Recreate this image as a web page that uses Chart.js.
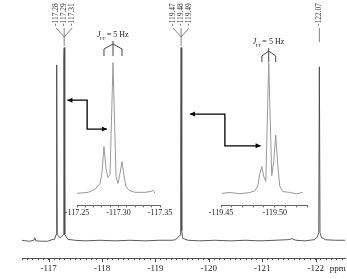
<!DOCTYPE html>
<html>
<head>
<meta charset="utf-8">
<script src="https://cdn.jsdelivr.net/npm/chart.js@4/dist/chart.umd.min.js"></script>
<style>
html, body { margin: 0; padding: 0; background: #fff; }
#wrap { position: relative; width: 347px; height: 279px; overflow: hidden; }
canvas { position: absolute; }
</style>
</head>
<body>
<div id="wrap">
  <canvas id="mainChart" width="347" height="279" style="left:0;top:0"></canvas>
  <canvas id="inset1" width="115" height="200" style="left:61px;top:25px"></canvas>
  <canvas id="inset2" width="118" height="200" style="left:205px;top:25px"></canvas>
</div>
<script>
// main 19F spectrum (ppm, relative intensity)
const mainPpm = [-116.50, -116.57, -116.64, -116.72, -116.74, -116.76, -116.87, -116.98, -117.06, -117.11,
  -117.14, -117.15, -117.16, -117.20, -117.23, -117.275, -117.283, -117.29, -117.297, -117.305, -117.36,
  -117.49, -117.68, -117.96, -118.24, -118.52, -118.80, -119.08, -119.31, -119.38, -119.42, -119.462,
  -119.472, -119.48, -119.488, -119.496, -119.51, -119.61, -119.83, -120.11, -120.40, -120.68, -120.96,
  -121.24, -121.48, -121.56, -121.63, -121.80, -121.97, -122.03, -122.058, -122.07, -122.082, -122.11,
  -122.18, -122.37, -122.55];
const mainInt = [0, -0.3, -0.5, 0, 1.3, -0.3, -0.5, -0.5, 0.3, 0.5,
  3, 91, 3, 1.5, 1.5, 3, 94, 100, 84, 3, 0.5,
  0, -0.3, 0, -0.3, 0, -0.3, 0, 0, 0.3, 1.5, 2.6,
  47, 100, 94, 5, 1, 0, -0.3, 0, -0.3, 0, -0.3,
  0, 0.3, 0.8, 0, -0.3, 0.3, 1.5, 4, 90, 4, 1.5,
  0.3, 0, 0];
const mainTickLabels = [-117, -118, -119, -120, -121, -122];

// expansion around -117.29
const inset1Ppm = [-117.2500, -117.2633, -117.2717, -117.2777, -117.2801, -117.2825, -117.2849, -117.2873,
  -117.2898, -117.2934, -117.2970, -117.2994, -117.3018, -117.3042, -117.3066, -117.3090, -117.3127,
  -117.3199, -117.3319, -117.3392, -117.3416, -117.3440];
const inset1Int = [0, 0.8, 3.1, 7.6, 16.0, 35.9, 19.1, 12.2, 14.5, 100, 13.0, 7.6, 15.3, 24.4, 13.7, 5.3,
  2.3, 0.8, 0.8, 1.5, 2.3, 0];
const inset1TickLabels = [-117.25, -117.30, -117.35];

// expansion around -119.48
const inset2Ppm = [-119.4509, -119.4583, -119.4676, -119.4769, -119.4815, -119.4843, -119.4861, -119.4880,
  -119.4898, -119.4917, -119.4944, -119.4972, -119.4991, -119.5009, -119.5028, -119.5046, -119.5074,
  -119.5139, -119.5204, -119.5259];
const inset2Int = [0, 0.7, -0.3, 0.7, 2, 5.7, 15, 20.6, 12.8, 9.2, 100, 13.5, 25, 44.7, 22, 5.7, 1.4, 0.7, -0.3, 0.7];
const inset2TickLabels = [-119.45, -119.50];

const peakGroups = [
  { at: -117.29, labels: ['-117.28', '-117.29', '-117.31'] },
  { at: -119.48, labels: ['-119.47', '-119.48', '-119.49'] },
  { at: -122.07, labels: ['-122.07'] }
];
const arrows = [
  [[-117.35, 72.7], [-117.72, 72.7], [-117.72, 57.7], [-118.09, 57.7]],
  [[-119.645, 65.5], [-120.30, 65.5], [-120.30, 49.0], [-120.97, 49.0]]
];

const SERIF = '"Liberation Serif", "DejaVu Serif", serif';

function stepTicks(min, max, step) {
  const out = [];
  const n = Math.round((max - min) / step);
  for (let i = 0; i <= n; i++) out.push({ value: +(min + i * step).toFixed(4) });
  return out;
}
function labelFor(list, digits) {
  return v => {
    const hit = list.find(l => Math.abs(l - v) < 1e-6);
    return hit === undefined ? '' : hit.toFixed(digits);
  };
}
function head(ctx, tip, from) {
  const a = Math.atan2(tip[1] - from[1], tip[0] - from[0]);
  ctx.beginPath();
  ctx.moveTo(tip[0], tip[1]);
  ctx.lineTo(tip[0] - 5 * Math.cos(a) + 2.5 * Math.sin(a), tip[1] - 5 * Math.sin(a) - 2.5 * Math.cos(a));
  ctx.lineTo(tip[0] - 5 * Math.cos(a) - 2.5 * Math.sin(a), tip[1] - 5 * Math.sin(a) + 2.5 * Math.cos(a));
  ctx.closePath();
  ctx.fill();
}

const annot = {
  id: 'annot',
  afterDraw(chart) {
    const { ctx, scales: { x, y } } = chart;
    const ay = chart.chartArea.bottom;
    ctx.save();
    ctx.strokeStyle = '#444';
    ctx.lineWidth = 1;
    mainTickLabels.forEach(v => {
      const px = Math.round(x.getPixelForValue(v)) + 0.5;
      ctx.beginPath(); ctx.moveTo(px, ay); ctx.lineTo(px, ay + 4); ctx.stroke();
    });
    ctx.fillStyle = '#222';
    ctx.font = '9px ' + SERIF;
    ctx.textBaseline = 'middle';
    ctx.textAlign = 'left';
    ctx.fillText('ppm', x.getPixelForValue(-122) + 14, ay + 10.5);

    // peak labels
    ctx.font = '7.5px ' + SERIF;
    ctx.fillStyle = '#333';
    ctx.strokeStyle = '#666';
    ctx.lineWidth = 0.8;
    peakGroups.forEach(g => {
      const cx = x.getPixelForValue(g.at);
      const n = g.labels.length;
      const join = n > 1 ? 37 : 28;
      g.labels.forEach((t, i) => {
        const lx = cx + (i - (n - 1) / 2) * 8;
        ctx.save();
        ctx.translate(lx, 26);
        ctx.rotate(-Math.PI / 2);
        ctx.fillText(t, 0, 0);
        ctx.restore();
        ctx.beginPath(); ctx.moveTo(lx, 28); ctx.lineTo(cx, join); ctx.stroke();
      });
      ctx.beginPath(); ctx.moveTo(cx, join); ctx.lineTo(cx, n > 1 ? 46 : 42); ctx.stroke();
    });

    // arrows
    ctx.strokeStyle = '#000';
    ctx.fillStyle = '#000';
    ctx.lineWidth = 1.3;
    arrows.forEach(a => {
      const pts = a.map(p => [x.getPixelForValue(p[0]), y.getPixelForValue(p[1])]);
      ctx.beginPath();
      pts.forEach((p, i) => i ? ctx.lineTo(p[0], p[1]) : ctx.moveTo(p[0], p[1]));
      ctx.stroke();
      head(ctx, pts[0], pts[1]);
      head(ctx, pts[pts.length - 1], pts[pts.length - 2]);
    });
    ctx.restore();
  }
};

const jb = {
  id: 'jb',
  afterDraw(chart, args, o) {
    const { ctx, scales: { x } } = chart;
    const xl = x.getPixelForValue(o.peaks[0]);
    const xm = x.getPixelForValue(o.peaks[1]);
    const xr = x.getPixelForValue(o.peaks[2]);
    ctx.save();
    ctx.strokeStyle = '#444';
    ctx.lineWidth = 1;
    ctx.beginPath();
    ctx.moveTo(xl, o.legBot); ctx.lineTo(xl, o.legTop); ctx.lineTo(xm, o.apex);
    ctx.lineTo(xr, o.legTop); ctx.lineTo(xr, o.legBot);
    ctx.moveTo(xm, o.apex - 3); ctx.lineTo(xm, o.legBot);
    ctx.stroke();
    ctx.fillStyle = '#222';
    ctx.textBaseline = 'alphabetic';
    ctx.textAlign = 'left';
    ctx.font = 'italic 8px ' + SERIF; const wJ = ctx.measureText('J').width;
    ctx.font = '5px ' + SERIF; const wF = ctx.measureText('FF').width;
    ctx.font = '8px ' + SERIF; const wR = ctx.measureText('= 5 Hz').width;
    let sx = xm - (wJ + wF + wR + 1) / 2;
    ctx.font = 'italic 8px ' + SERIF; ctx.fillText('J', sx, o.textY);
    ctx.font = '5px ' + SERIF; ctx.fillText('FF', sx + wJ - 0.5, o.textY + 2.5);
    ctx.font = '8px ' + SERIF; ctx.fillText('= 5 Hz', sx + wJ + wF + 0.5, o.textY);
    ctx.restore();
  }
};

new Chart(document.getElementById('mainChart'), {
  type: 'line',
  data: {
    datasets: [{
      data: mainPpm.map((p, i) => ({ x: p, y: mainInt[i] })),
      borderColor: '#4a4a4a', borderWidth: 0.9, pointRadius: 0, tension: 0
    }]
  },
  options: {
    responsive: false, animation: false, events: [],
    layout: { padding: { left: 22, right: 2, top: 0, bottom: 2 } },
    plugins: { legend: { display: false }, tooltip: { enabled: false } },
    scales: {
      x: {
        type: 'linear', reverse: true, min: -122.55, max: -116.5,
        afterBuildTicks: s => { s.ticks = stepTicks(-122.5, -116.5, 0.1); },
        grid: { drawOnChartArea: false, tickLength: 2, color: '#555' },
        border: { color: '#555', width: 1 },
        ticks: {
          autoSkip: false, maxRotation: 0, padding: 3, color: '#222',
          font: { family: SERIF, size: 9 },
          callback: labelFor(mainTickLabels, 0)
        }
      },
      y: { display: false, min: -9.3, max: 124.7 }
    }
  },
  plugins: [annot]
});

function inset(id, ppm, ints, min, max, tickLabels, jbOpts) {
  return new Chart(document.getElementById(id), {
    type: 'line',
    data: {
      datasets: [{
        data: ppm.map((p, i) => ({ x: p, y: ints[i] })),
        borderColor: '#999', borderWidth: 1, pointRadius: 0, tension: 0
      }]
    },
    options: {
      responsive: false, animation: false, events: [],
      layout: { padding: { left: 16, right: 16, top: 37, bottom: 6 } },
      plugins: { legend: { display: false }, tooltip: { enabled: false }, jb: jbOpts },
      scales: {
        x: {
          type: 'linear', reverse: true, min: min, max: max,
          afterBuildTicks: s => { s.ticks = stepTicks(min, max, 0.01); },
          grid: { drawOnChartArea: false, tickLength: 2, color: '#666' },
          border: { color: '#666', width: 1 },
          ticks: {
            autoSkip: false, maxRotation: 0, padding: 1, color: '#222',
            font: { family: SERIF, size: 8 },
            callback: labelFor(tickLabels, 2)
          }
        },
        y: { display: false, min: -9.2, max: 100.5 }
      }
    },
    plugins: [jb]
  });
}

inset('inset1', inset1Ppm, inset1Int, -117.35, -117.25, inset1TickLabels,
  { peaks: [-117.2825, -117.2934, -117.3042], textY: 12, apex: 19, legTop: 24, legBot: 31 });
inset('inset2', inset2Ppm, inset2Int, -119.53, -119.45, inset2TickLabels,
  { peaks: [-119.4880, -119.4944, -119.5009], textY: 19, apex: 26, legTop: 31, legBot: 37 });
</script>
</body>
</html>
